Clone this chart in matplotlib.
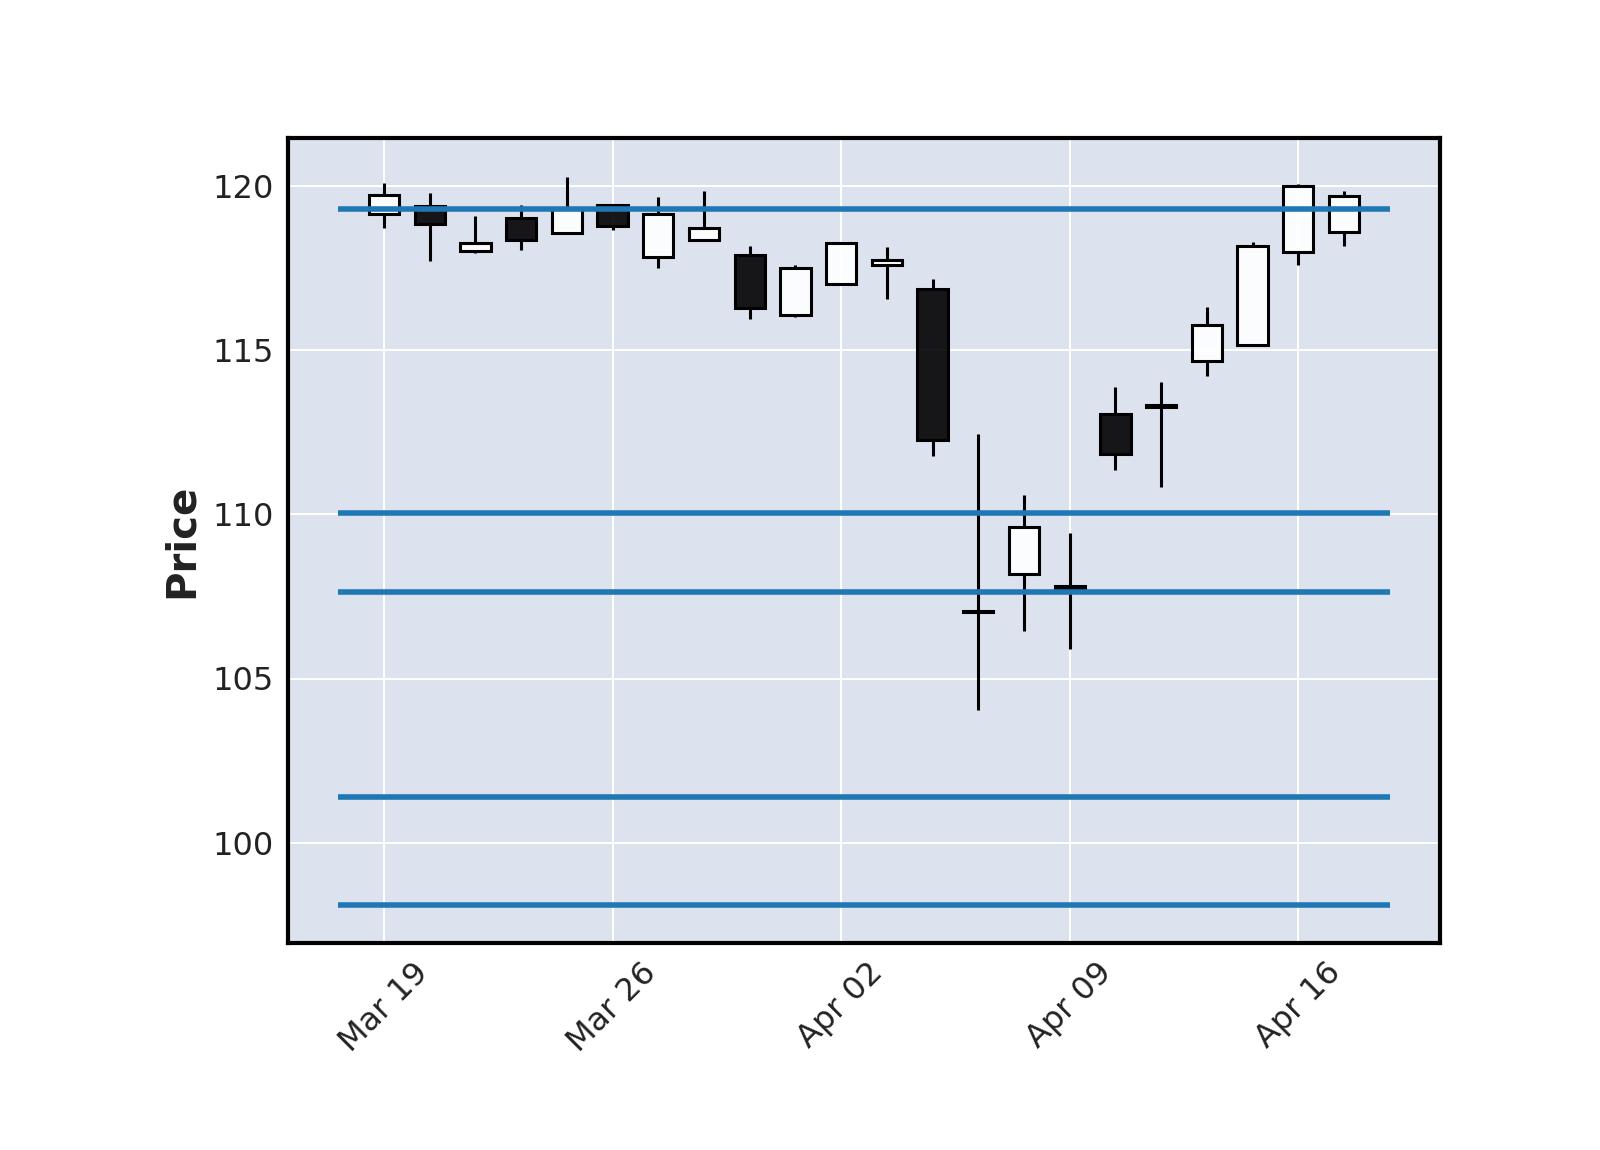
import matplotlib
matplotlib.use("Agg")
import matplotlib.pyplot as plt

dates = ["Mar 19", "Mar 20", "Mar 21", "Mar 22", "Mar 23",
         "Mar 26", "Mar 27", "Mar 28", "Mar 29", "Mar 30",
         "Apr 02", "Apr 03", "Apr 04", "Apr 05", "Apr 06",
         "Apr 09", "Apr 10", "Apr 11", "Apr 12", "Apr 13",
         "Apr 16", "Apr 17"]
opens = [119.15, 119.39, 118.00, 119.03, 118.55, 119.42, 117.82, 118.36, 117.88, 116.06,
         117.00, 117.58, 116.85, 107.02, 108.18, 107.80, 113.06, 113.33, 114.67, 115.15,
         117.97, 118.60]
highs = [120.09, 119.79, 119.09, 119.42, 120.27, 119.45, 119.64, 119.85, 118.15, 117.58,
         118.30, 118.12, 117.15, 112.45, 110.60, 109.42, 113.88, 114.03, 116.30, 118.30,
         120.06, 119.85]
lows = [118.70, 117.70, 117.94, 118.03, 118.55, 118.64, 117.48, 118.36, 115.94, 116.00,
        117.00, 116.55, 111.76, 104.03, 106.45, 105.91, 111.36, 110.82, 114.21, 115.15,
        117.60, 118.15]
closes = [119.73, 118.82, 118.24, 118.36, 119.30, 118.76, 119.15, 118.70, 116.27, 117.48,
          118.24, 117.73, 112.27, 107.04, 109.61, 107.76, 111.82, 113.27, 115.76, 118.15,
          120.00, 119.70]
hline_levels = [119.28, 110.03, 107.62, 101.39, 98.12]
tick_idx = [0, 5, 10, 15, 20]

fig = plt.figure(figsize=(8, 5.75), dpi=200)
ax = fig.add_axes([0.18, 0.18, 0.72, 0.70])
ax.set_facecolor('#DCE3EF')
ax.grid(True, color='white', linewidth=0.7, zorder=0)
ax.set_axisbelow(True)

x = list(range(len(dates)))
for i in x:
    o, h, l, c = opens[i], highs[i], lows[i], closes[i]
    up = c >= o
    lo, hi = min(o, c), max(o, c)
    # wicks only outside the body so they don't show through the fill
    if h > hi:
        ax.vlines(i, hi, h, color='k', linewidth=1.1, zorder=2)
    if l < lo:
        ax.vlines(i, l, lo, color='k', linewidth=1.1, zorder=2)
    ax.bar(i, max(hi - lo, 0.04), bottom=lo, width=0.66,
           facecolor=(1, 1, 1, 0.9) if up else (0, 0, 0, 0.9),
           edgecolor='k', linewidth=1.1, zorder=3)

for lev in hline_levels:
    ax.hlines(lev, -1, 22, color='#1f77b4', linewidth=2.0, zorder=4)

ax.set_xlim(-2.1, 23.1)
ax.set_ylim(96.95, 121.45)
ax.set_yticks([100, 105, 110, 115, 120])
ax.set_xticks(tick_idx)
ax.set_xticklabels([dates[i] for i in tick_idx], rotation=45, ha='center')
ax.tick_params(axis='y', length=0, labelsize=11.5, colors='#222222', pad=5)
ax.tick_params(axis='x', length=0, labelsize=11.5, colors='#222222', pad=5)
ax.set_ylabel('Price', fontsize=14.5, fontweight='bold', color='#222222', labelpad=4)
for s in ax.spines.values():
    s.set_linewidth(1.5)
    s.set_color('k')

fig.savefig('out.png', dpi=200)
